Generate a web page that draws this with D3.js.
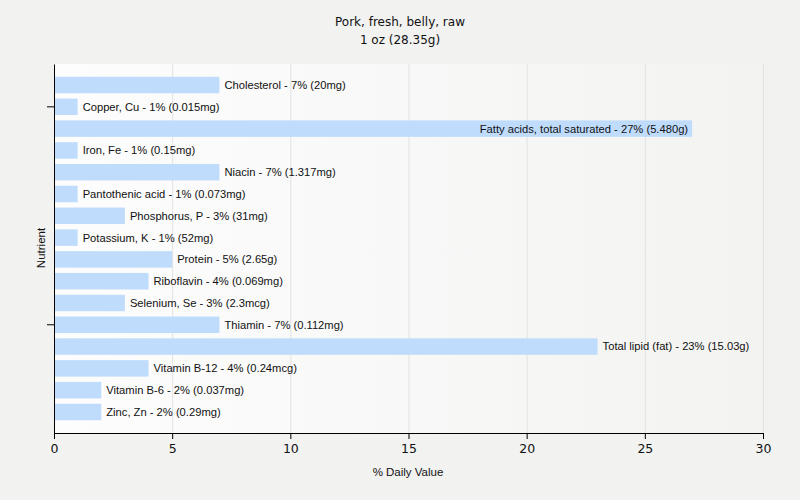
<!DOCTYPE html>
<html><head><meta charset="utf-8">
<script src="https://cdn.jsdelivr.net/npm/d3@7"></script>
<style>body{margin:0;background:#f2f2f1;} svg{display:block;font-family:"DejaVu Sans",sans-serif;}</style>
</head><body><svg id="c" width="800" height="500"></svg>
<script>
const nutrients = ["Cholesterol","Copper, Cu","Fatty acids, total saturated","Iron, Fe","Niacin","Pantothenic acid","Phosphorus, P","Potassium, K","Protein","Riboflavin","Selenium, Se","Thiamin","Total lipid (fat)","Vitamin B-12","Vitamin B-6","Zinc, Zn"];
const dailyValues = [7,1,27,1,7,1,3,1,5,4,3,7,23,4,2,2];
const amounts = ["20mg","0.015mg","5.480g","0.15mg","1.317mg","0.073mg","31mg","52mg","2.65g","0.069mg","2.3mcg","0.112mg","15.03g","0.24mcg","0.037mg","0.29mg"];
const xTicks = [0,5,10,15,20,25,30];
const yTickCats = ["Copper, Cu","Thiamin"];
const title = ["Pork, fresh, belly, raw","1 oz (28.35g)"];

const svg = d3.select("#c");
const L=54, R=763, T=64, B=433;
const LF = "'Liberation Sans',Arial,sans-serif";
const x = d3.scaleLinear().domain([0,30]).range([L,R]);
const y = d3.scaleBand().domain(nutrients).range([T,B]).paddingInner(0.243).paddingOuter(0.587);

const defs = svg.append("defs");
const g = defs.append("linearGradient").attr("id","bg").attr("x1","0").attr("x2","1").attr("y1","0").attr("y2","0");
g.append("stop").attr("offset","0").attr("stop-color","#fdfdfd");
g.append("stop").attr("offset","1").attr("stop-color","#f3f3f2");
svg.append("rect").attr("x",L).attr("y",T).attr("width",R-L).attr("height",B-T).attr("fill","url(#bg)");

svg.append("g").selectAll("line").data(xTicks.slice(1)).join("line")
  .attr("x1",d=>x(d)+0.5).attr("x2",d=>x(d)+0.5).attr("y1",T).attr("y2",B)
  .attr("stroke","#e2e2e2").attr("stroke-width",1);

svg.append("g").selectAll("rect").data(nutrients).join("rect")
  .attr("x",L).attr("y",d=>y(d)).attr("width",(d,i)=>x(dailyValues[i])-L).attr("height",y.bandwidth())
  .attr("fill","#c0dcfd");

svg.append("g").selectAll("text").data(nutrients).join("text")
  .each(function(d,i){
    const label = `${d} - ${dailyValues[i]}% (${amounts[i]})`;
    const t = d3.select(this).text(label).attr("y",y(d)+y.bandwidth()/2).attr("dy","0.35em")
      .attr("font-size","11.2px").attr("font-family",LF).attr("fill","#111");
    const w = this.getComputedTextLength();
    const xe = x(dailyValues[i]);
    if (xe + 5 + w > R) t.attr("x",xe-4).attr("text-anchor","end");
    else t.attr("x",xe+5).attr("text-anchor","start");
  });

const xAxis = svg.append("g").attr("transform",`translate(0,${B})`)
  .call(d3.axisBottom(x).tickValues(xTicks).tickSize(6).tickSizeOuter(0));
xAxis.select(".domain").attr("stroke","#000");
xAxis.selectAll("text").attr("font-size","12.5px").attr("fill","#111").attr("font-family","'DejaVu Sans',sans-serif").attr("dy","0.9em");

const yAxis = svg.append("g").attr("transform",`translate(${L},0)`)
  .call(d3.axisLeft(y).tickValues(yTickCats).tickSize(7).tickSizeOuter(0).tickFormat(""));
yAxis.select(".domain").attr("stroke","#000");
yAxis.selectAll(".tick line").attr("stroke","#000");

svg.append("text").attr("x",400).attr("y",26).attr("text-anchor","middle").attr("font-size","12px").attr("fill","#111").text(title[0]);
svg.append("text").attr("x",400).attr("y",44).attr("text-anchor","middle").attr("font-size","12px").attr("fill","#111").text(title[1]);
svg.append("text").attr("x",408).attr("y",476).attr("text-anchor","middle").attr("font-size","11.5px").attr("font-family",LF).attr("fill","#111").text("% Daily Value");
svg.append("text").attr("transform","translate(45,248) rotate(-90)").attr("text-anchor","middle").attr("font-size","11.5px").attr("font-family",LF).attr("fill","#111").text("Nutrient");
</script></body></html>
